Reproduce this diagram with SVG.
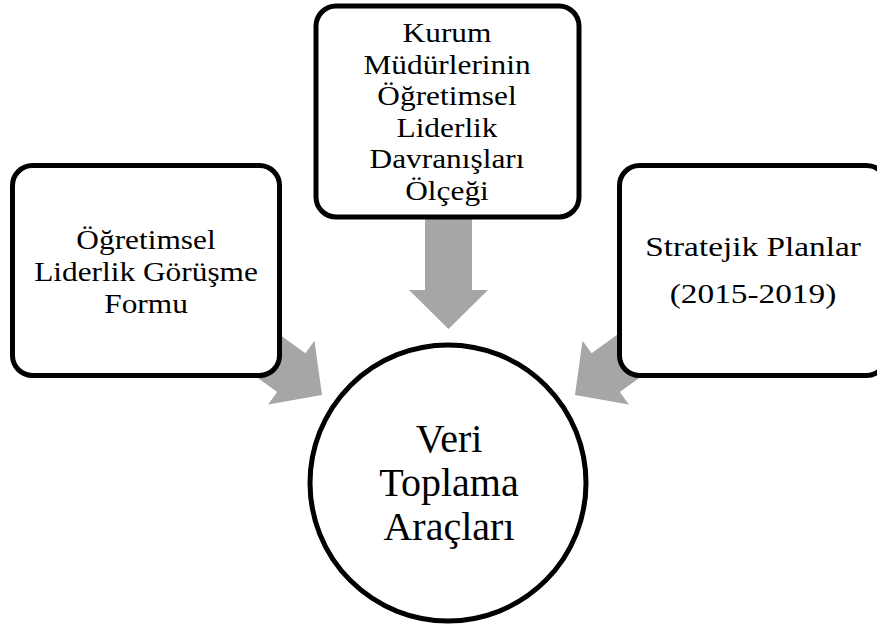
<svg xmlns="http://www.w3.org/2000/svg" width="877" height="625" viewBox="0 0 877 625">
  <style>
    .box { fill: #ffffff; stroke: #000000; stroke-width: 5; }
    .arrow { fill: #a6a6a6; stroke: none; }
    .t { font-family: "Liberation Serif", "Times New Roman", serif; font-size: 28px; fill: #000000; text-anchor: middle; }
    .tc { font-family: "Liberation Serif", "Times New Roman", serif; font-size: 40px; fill: #000000; text-anchor: middle; }
  </style>
  <defs>
    <polygon id="blockArrow" points="-24,-125 24,-125 24,-38 39.5,-38 0,0 -39.5,-38 -24,-38"/>
  </defs>
  <rect width="877" height="625" fill="#ffffff"/>

  <g id="connectors">
    <polygon class="arrow" points="425,212 472,212 472,290 488,290 448.5,329 409,290 425,290"/>
    <use href="#blockArrow" class="arrow" transform="translate(322,395) rotate(-54)"/>
    <use href="#blockArrow" class="arrow" transform="translate(575,395) rotate(54)"/>
  </g>

  <g id="node-olcek">
    <rect class="box" x="316" y="6" width="263" height="211" rx="20" ry="20"/>
    <g transform="translate(447,0) scale(1.12,1)">
      <text class="t" x="0" y="42">Kurum</text>
      <text class="t" x="0" y="73.6">Müdürlerinin</text>
      <text class="t" x="0" y="105.2">Öğretimsel</text>
      <text class="t" x="0" y="136.8">Liderlik</text>
      <text class="t" x="0" y="168.4">Davranışları</text>
      <text class="t" x="0" y="200">Ölçeği</text>
    </g>
  </g>

  <g id="node-gorusme">
    <rect class="box" x="12.5" y="165.5" width="267" height="210" rx="20" ry="20"/>
    <g transform="translate(146,0) scale(1.12,1)">
      <text class="t" x="0" y="249">Öğretimsel</text>
      <text class="t" x="0" y="281">Liderlik Görüşme</text>
      <text class="t" x="0" y="313">Formu</text>
    </g>
  </g>

  <g id="node-stratejik">
    <rect class="box" x="619.5" y="165.5" width="267" height="210" rx="20" ry="20"/>
    <g transform="translate(753,0) scale(1.19,1)">
      <text class="t" x="0" y="256">Stratejik Planlar</text>
      <text class="t" x="0" y="303">(2015-2019)</text>
    </g>
  </g>

  <g id="node-veri">
    <circle class="box" cx="448" cy="483" r="138"/>
    <text class="tc" x="449" y="452">Veri</text>
    <text class="tc" x="449" y="496">Toplama</text>
    <text class="tc" x="449" y="540">Araçları</text>
  </g>
</svg>
